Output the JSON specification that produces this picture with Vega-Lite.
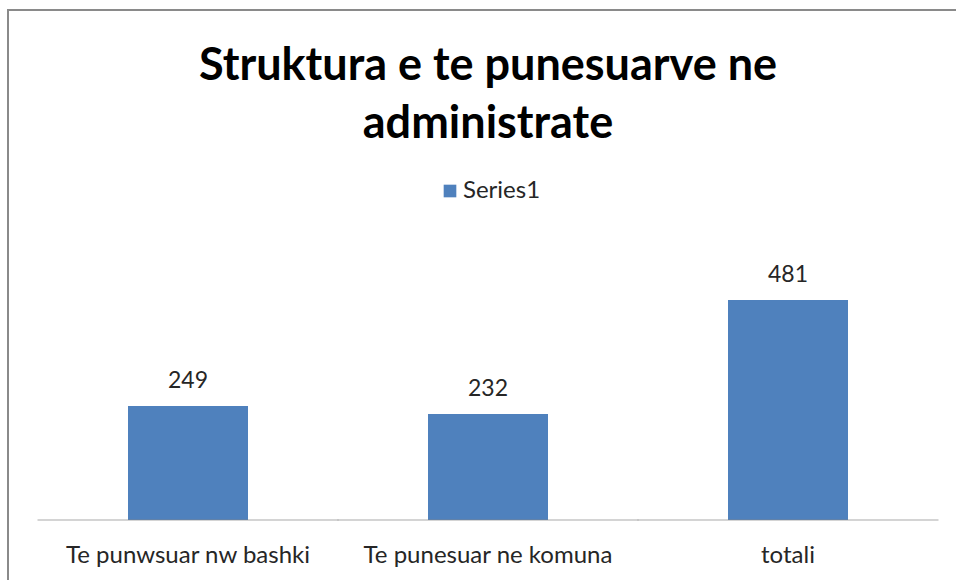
{
  "$schema": "https://vega.github.io/schema/vega-lite/v6.json",
  "autosize": {"type": "none"},
  "padding": {"left": 8, "top": 10, "right": 0, "bottom": 0},
  "width": 960,
  "height": 580,
  "background": "white",
  "config": {
    "view": {"stroke": "#8a8a8a", "strokeWidth": 2},
    "font": "Lato"
  },
  "title": {
    "text": ["Struktura e te punesuarve ne", "administrate"],
    "font": "Lato",
    "fontSize": 45,
    "fontWeight": "bold",
    "color": "#000000",
    "lineHeight": 58,
    "anchor": "middle",
    "frame": "group",
    "offset": -137
  },
  "data": {
    "values": [
      {"category": "Te punwsuar nw bashki", "value": 249, "series": "Series1"},
      {"category": "Te punesuar ne komuna", "value": 232, "series": "Series1"},
      {"category": "totali", "value": 481, "series": "Series1"}
    ]
  },
  "encoding": {
    "x": {
      "field": "category",
      "type": "nominal",
      "sort": null,
      "scale": {"paddingInner": 0, "paddingOuter": 0.1},
      "axis": {
        "title": null,
        "orient": "bottom",
        "offset": -70,
        "domain": false,
        "ticks": false,
        "labelAngle": 0,
        "labelLimit": 0,
        "labelFont": "Lato",
        "labelFontSize": 24,
        "labelColor": "#262626",
        "labelPadding": 23
      }
    },
    "y": {
      "field": "value",
      "type": "quantitative",
      "scale": {"domain": [-153, 1115], "nice": false, "zero": false},
      "axis": null
    }
  },
  "layer": [
    {
      "mark": {"type": "bar", "size": 120, "color": "#4F81BD"},
      "encoding": {
        "color": {
          "field": "series",
          "type": "nominal",
          "scale": {"range": ["#4F81BD"]},
          "legend": {
            "title": null,
            "orient": "none",
            "legendX": 430,
            "legendY": 169,
            "symbolType": "square",
            "symbolSize": 160,
            "symbolStrokeWidth": 0,
            "labelFont": "Lato",
            "labelFontSize": 24,
            "labelColor": "#262626",
            "labelOffset": 1,
            "padding": 0
          }
        }
      }
    },
    {
      "mark": {"type": "tick", "color": "#888888", "thickness": 1, "size": 301},
      "encoding": {"y": {"datum": 0}}
    },
    {
      "mark": {"type": "text", "baseline": "alphabetic", "dy": -18, "font": "Lato", "fontSize": 23, "color": "#262626"},
      "encoding": {"text": {"field": "value", "type": "quantitative"}}
    }
  ]
}
